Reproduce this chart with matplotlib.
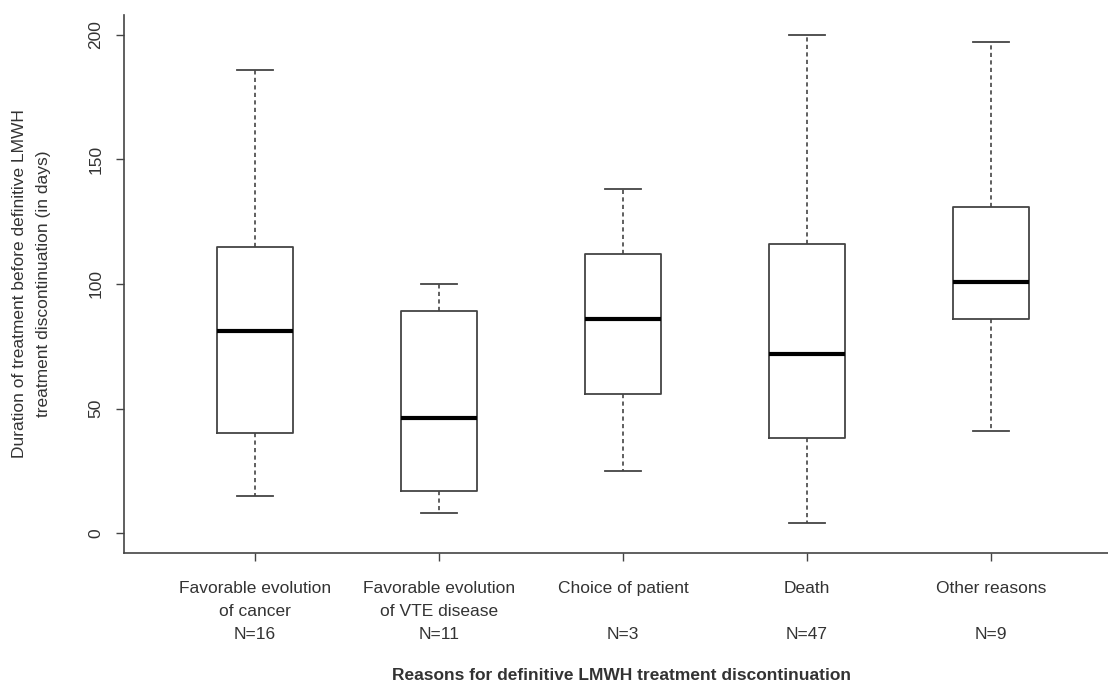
import matplotlib
matplotlib.use("Agg")
import matplotlib.pyplot as plt

# %% DATA
reasons = ["Favorable evolution\nof cancer", "Favorable evolution\nof VTE disease",
           "Choice of patient\n", "Death\n", "Other reasons\n"]
counts = [16, 11, 3, 47, 9]
whislo = [15, 8, 25, 4, 41]
q1 = [40, 17, 56, 38, 86]
med = [81, 46, 86, 72, 101]
q3 = [115, 89, 112, 116, 131]
whishi = [186, 100, 138, 200, 197]
yticks = [0, 50, 100, 150, 200]

plt.rcParams["font.family"] = ["Liberation Sans", "DejaVu Sans"]
txt = "#333333"
line = "#444444"

fig = plt.figure(figsize=(11.08, 6.90), dpi=100)
ax = fig.add_axes([124 / 1108, 1 - 553 / 690, 1 - 124 / 1108, (553 - 15) / 690])

stats = []
for i in range(len(reasons)):
    stats.append({"whislo": whislo[i], "q1": q1[i], "med": med[i],
                  "q3": q3[i], "whishi": whishi[i], "fliers": []})

ax.bxp(stats, positions=range(1, len(reasons) + 1), widths=0.41,
       showfliers=False, patch_artist=False,
       boxprops=dict(color=line, linewidth=1.3),
       medianprops=dict(color="black", linewidth=3),
       whiskerprops=dict(color=line, linewidth=1.2, linestyle=(0, (2.5, 2))),
       capprops=dict(color=line, linewidth=1.3),
       capwidths=0.2)

ax.set_xlim(0.288, 5.636)
ax.set_ylim(-8, 208)
ax.set_yticks(yticks)
ax.set_yticklabels([str(v) for v in yticks], rotation=90, va="center")
ax.set_xticks(range(1, len(reasons) + 1))
ax.set_xticklabels([r + "\nN=" + str(n) for r, n in zip(reasons, counts)],
                   linespacing=1.68)

ax.tick_params(axis="both", colors=line, labelcolor=txt, labelsize=12.5,
               length=6, width=1)
ax.tick_params(axis="x", pad=14)
ax.tick_params(axis="y", pad=9)

for s in ["top", "right"]:
    ax.spines[s].set_visible(False)
for s in ["left", "bottom"]:
    ax.spines[s].set_color(line)
    ax.spines[s].set_linewidth(1.2)

fig.text(32 / 1108, 1 - 284 / 690,
         "Duration of treatment before definitive LMWH\ntreatment discontinuation (in days)",
         rotation=90, ha="center", va="center", multialignment="center",
         fontsize=12.5, color=txt, linespacing=1.75)
fig.text(622 / 1108, 1 - 676 / 690,
         "Reasons for definitive LMWH treatment discontinuation",
         ha="center", va="center", fontsize=12.5, fontweight="bold", color=txt)

plt.savefig("out.png", dpi=100)
